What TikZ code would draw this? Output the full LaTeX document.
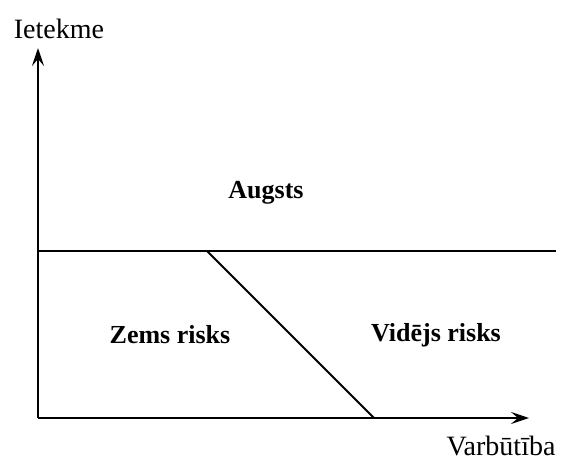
\documentclass[tikz,border=0pt]{standalone}
\usepackage{fontspec}
\setmainfont{Liberation Serif}
\usetikzlibrary{arrows.meta}
\begin{document}
\begin{tikzpicture}[x=1pt,y=-1pt,
  lbl/.style={font=\fontsize{28}{30}\selectfont, inner sep=0pt},
  zone/.style={font=\fontsize{26}{30}\selectfont\bfseries, inner sep=0pt},
  ln/.style={line width=2pt},
  axis/.style={line width=2pt,-{Stealth[length=18pt,width=12pt,inset=7pt]}}]
\useasboundingbox (0,0) rectangle (565,468);
\coordinate (O) at (38,418);
\coordinate (Ytop) at (38,48);
\coordinate (Xend) at (529,418);
\coordinate (Hl) at (38,251);
\coordinate (Hr) at (556,251);
\coordinate (D1) at (207,251);
\coordinate (D2) at (374,418);
\draw[axis] (O) -- (Ytop);
\draw[axis] (O) -- (Xend);
\draw[ln] (Hl) -- (Hr);
\draw[ln] (D1) -- (D2);
\node[lbl] (yl) at (59,29) {Ietekme};
\node[lbl] (xl) at (501,446) {Varbūtība};
\node[zone] (a) at (266,193) {Augsts};
\node[zone] (z) at (170,335) {Zems risks};
\node[zone] (v) at (436,335) {Vidējs risks};
\end{tikzpicture}
\end{document}
